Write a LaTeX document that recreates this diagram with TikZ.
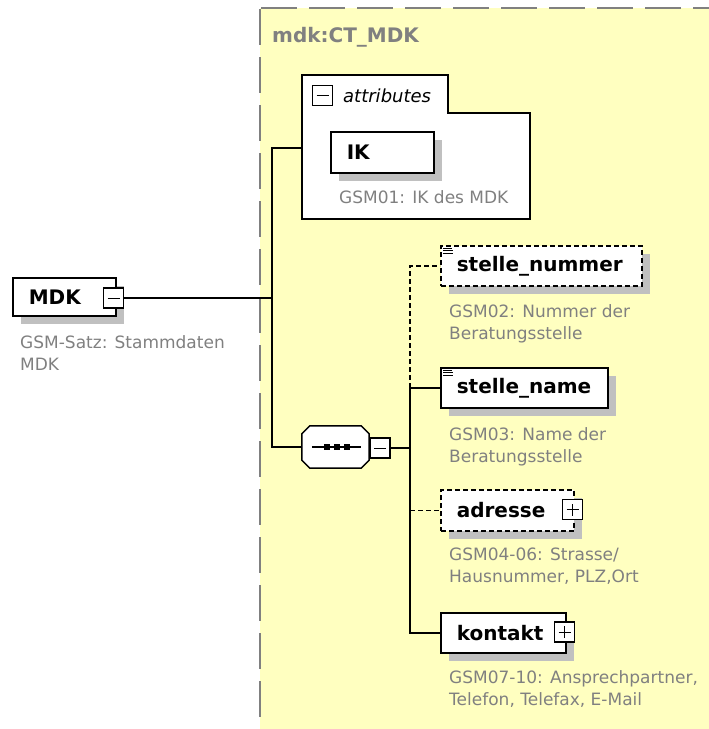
\documentclass[tikz,border=0pt]{standalone}
\usepackage{fontspec}
\setmainfont{DejaVu Sans}
\usetikzlibrary{shadows}
\definecolor{schemabg}{HTML}{FFFFC0}
\definecolor{schemagray}{HTML}{808080}
\definecolor{shadowgray}{HTML}{C0C0C0}
\tikzset{
  elem/.style={draw, line width=1.6pt, fill=white, inner ysep=0pt, inner xsep=16pt, align=left,
    font=\fontsize{20}{24}\selectfont\bfseries,
    general shadow={fill=shadowgray, shadow xshift=8pt, shadow yshift=-8pt}},
  optelem/.style={elem, dash pattern=on 5pt off 3pt},
  desc/.style={text=schemagray, font=\fontsize{17}{22}\selectfont, align=left,
    inner sep=0pt, anchor=north west},
  togglebox/.style={draw, line width=1.2pt, fill=white, minimum size=20pt, inner sep=0pt},
  minusbox/.style={togglebox, path picture={
      \draw[line width=1pt] ([xshift=4pt]path picture bounding box.west) -- ([xshift=-4pt]path picture bounding box.east);}},
  plusbox/.style={togglebox, path picture={
      \draw[line width=1pt] ([xshift=4pt]path picture bounding box.west) -- ([xshift=-4pt]path picture bounding box.east);
      \draw[line width=1pt] ([yshift=4pt]path picture bounding box.south) -- ([yshift=-4pt]path picture bounding box.north);}},
  seqbox/.style={minimum width=67pt, minimum height=42pt, inner sep=0pt},
  conn/.style={line width=1.5pt},
  optconn/.style={conn, dash pattern=on 5pt off 3pt},
}
% Achteck der Sequenz um einen Knoten
\newcommand{\seqoutline}[1]{([xshift=8pt]#1.north west) -- ([xshift=-8pt]#1.north east)
  -- ([yshift=-8pt]#1.north east) -- ([yshift=8pt]#1.south east)
  -- ([xshift=-8pt]#1.south east) -- ([xshift=8pt]#1.south west)
  -- ([yshift=8pt]#1.south west) -- ([yshift=-8pt]#1.north west) -- cycle}
\begin{document}
\begin{tikzpicture}[x=1pt,y=-1pt, line join=miter]
  % --- Rahmen ---
  \useasboundingbox (0,0) rectangle (709,729);
  \fill[schemabg] (260,8) rectangle (709,729);
  \draw[schemagray, line width=2pt, dash pattern=on 36pt off 12pt] (261,8) -- (709,8);
  \draw[schemagray, line width=2pt, dash pattern=on 36pt off 12pt] (260,9) -- (260,729);
  \node[anchor=west, inner sep=0pt, text=schemagray, font=\fontsize{20}{24}\selectfont\bfseries]
    (ctname) at (272,37) {mdk:CT\_MDK};

  % --- Wurzelelement MDK ---
  \node[elem, anchor=north west, text width=71pt, minimum height=38pt] (mdk) at (12,277) {MDK};
  \node[minusbox] (mdkminus) at (113.5,298) {};
  \node[desc] (mdkdesc) at (20,335) {GSM-Satz: Stammdaten\\MDK};

  % --- Attribute ---
  \path[draw, line width=1.5pt, fill=white]
    (302,75) -- (448,75) -- (448,113) -- (530,113) -- (530,219) -- (302,219) -- cycle;
  \coordinate (attrport) at (302,148);
  \node[minusbox] (attrminus) at (322.5,95.5) {};
  \node[anchor=west, inner sep=0pt, font=\fontsize{18}{22}\selectfont\itshape]
    (attrlabel) at (343,96) {attributes};
  \node[elem, anchor=north west, text width=71pt, minimum height=41pt] (ik) at (330,131) {IK};
  \node[desc] (ikdesc) at (339,190) {GSM01: IK des MDK};

  % --- Sequenz ---
  \node[seqbox] (seq) at (335.5,447) {};
  \fill[shadowgray, shift={(8,8)}] \seqoutline{seq};
  \draw[line width=1.5pt, fill=white] \seqoutline{seq};
  \draw[line width=1.2pt] ([xshift=10pt]seq.west) -- ([xshift=-8pt]seq.east);
  \foreach \dx in {-9,1,11}
    \fill ([xshift=\dx pt]seq.center) +(-3,-3) rectangle +(3,3);
  \node[minusbox] (seqminus) at (380,448) {};

  % --- Kindelemente ---
  \node[optelem, anchor=north west, text width=169pt, minimum height=40pt] (nummer) at (440,245) {stelle\_nummer};
  \node[desc] (nummerdesc) at (449,304) {GSM02: Nummer der\\Beratungsstelle};
  \node[elem, anchor=north west, text width=135pt, minimum height=40pt] (name) at (440,367) {stelle\_name};
  \node[desc] (namedesc) at (449,427) {GSM03: Name der\\Beratungsstelle};
  \foreach \el in {nummer,name}
    \foreach \dy/\len in {3/9,5.5/10,8/10}
      \draw[line width=0.9pt] ([shift={(3pt,-\dy pt)}]\el.north west) -- ++(\len,0);
  \node[optelem, anchor=north west, text width=101pt, minimum height=41pt] (adresse) at (440,489) {adresse};
  \node[plusbox] (adresseplus) at (572.5,509.5) {};
  \node[desc] (adressedesc) at (449,548) {GSM04-06: Strasse/\\Hausnummer, PLZ,Ort};
  \node[elem, anchor=north west, text width=93pt, minimum height=40pt] (kontakt) at (440,612) {kontakt};
  \node[plusbox] (kontaktplus) at (564.5,632) {};
  \node[desc] (kontaktdesc) at (449,670) {GSM07-10: Ansprechpartner,\\Telefon, Telefax, E-Mail};

  % --- Verbindungen ---
  \coordinate (hub) at (272,298);
  \coordinate (fork) at (410,448);
  \draw[conn] (mdkminus.east) -- (hub);
  \draw[conn] (attrport) -- (attrport -| hub) -- (hub |- seq.west) -- (seq.west);
  \draw[conn] (seqminus.east) -- (fork);
  \draw[optconn] (name.west -| fork) -- (nummer.west -| fork) -- (nummer.west);
  \draw[conn] (name.west) -- (name.west -| fork) -- (kontakt.west -| fork) -- (kontakt.west);
  \draw[optconn] (adresse.west -| fork) -- (adresse.west);
\end{tikzpicture}
\end{document}
